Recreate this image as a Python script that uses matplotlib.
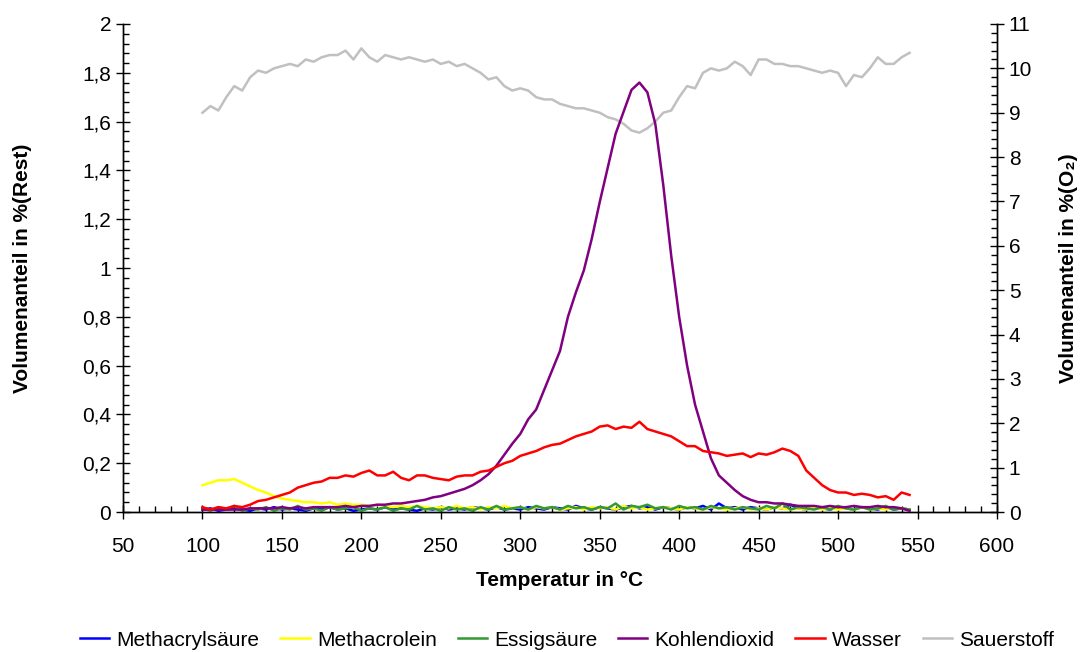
import matplotlib
matplotlib.use('Agg')
import matplotlib.pyplot as plt
from matplotlib.ticker import MultipleLocator, FuncFormatter
import numpy as np

plt.rcParams['font.family'] = ['Liberation Sans', 'DejaVu Sans']

# temperature grid in degC, one reading every 5 degrees
temperatur = np.arange(100, 546, 5)

methacrylsaeure = [0.01, 0.015, 0.005, 0.01, 0.015, 0.01, 0.005, 0.015, 0.01, 0.02,
                   0.01, 0.015, 0.01, 0.005, 0.015, 0.01, 0.02, 0.01, 0.015, 0.005,
                   0.01, 0.015, 0.01, 0.02, 0.01, 0.015, 0.01, 0.005, 0.015, 0.01,
                   0.02, 0.01, 0.015, 0.01, 0.02, 0.015, 0.01, 0.02, 0.01, 0.015,
                   0.01, 0.02, 0.015, 0.01, 0.02, 0.015, 0.01, 0.025, 0.015, 0.01,
                   0.02, 0.015, 0.01, 0.02, 0.025, 0.015, 0.02, 0.01, 0.02, 0.015,
                   0.01, 0.02, 0.015, 0.025, 0.01, 0.035, 0.015, 0.02, 0.01, 0.02,
                   0.015, 0.01, 0.02, 0.015, 0.03, 0.015, 0.01, 0.02, 0.015, 0.01,
                   0.02, 0.015, 0.01, 0.02, 0.015, 0.01, 0.02, 0.01, 0.015, 0.01]

methacrolein = [0.11, 0.12, 0.13, 0.13, 0.135, 0.12, 0.105, 0.09, 0.08, 0.065,
                0.055, 0.05, 0.045, 0.04, 0.04, 0.035, 0.04, 0.03, 0.035, 0.03,
                0.03, 0.025, 0.03, 0.025, 0.02, 0.025, 0.02, 0.025, 0.02, 0.015,
                0.02, 0.015, 0.025, 0.015, 0.02, 0.01, 0.02, 0.015, 0.025, 0.015,
                0.02, 0.01, 0.02, 0.015, 0.02, 0.01, 0.015, 0.02, 0.01, 0.02,
                0.015, 0.02, 0.01, 0.025, 0.015, 0.02, 0.01, 0.015, 0.02, 0.015,
                0.01, 0.02, 0.015, 0.01, 0.02, 0.015, 0.01, 0.015, 0.02, 0.01,
                0.015, 0.01, 0.02, 0.015, 0.01, 0.015, 0.01, 0.02, 0.01, 0.015,
                0.01, 0.015, 0.01, 0.02, 0.01, 0.015, 0.01, 0.02, 0.015, 0.01]

essigsaeure = [0.015, 0.005, 0.02, 0.01, 0.025, 0.005, 0.015, 0.01, 0.02, 0.005,
               0.015, 0.01, 0.025, 0.01, 0.015, 0.005, 0.02, 0.01, 0.015, 0.02,
               0.005, 0.015, 0.01, 0.02, 0.005, 0.015, 0.01, 0.025, 0.01, 0.015,
               0.005, 0.02, 0.01, 0.015, 0.005, 0.02, 0.01, 0.025, 0.01, 0.015,
               0.02, 0.01, 0.025, 0.015, 0.02, 0.01, 0.025, 0.015, 0.02, 0.01,
               0.02, 0.015, 0.035, 0.01, 0.025, 0.02, 0.03, 0.015, 0.02, 0.01,
               0.025, 0.015, 0.02, 0.01, 0.025, 0.015, 0.02, 0.01, 0.02, 0.015,
               0.01, 0.025, 0.015, 0.035, 0.01, 0.02, 0.015, 0.01, 0.02, 0.01,
               0.025, 0.015, 0.01, 0.02, 0.01, 0.015, 0.025, 0.01, 0.015, 0.01]

kohlendioxid = [0.01, 0.01, 0.01, 0.01, 0.01, 0.01, 0.015, 0.015, 0.015, 0.015,
                0.02, 0.015, 0.02, 0.015, 0.02, 0.02, 0.02, 0.02, 0.025, 0.02,
                0.025, 0.025, 0.03, 0.03, 0.035, 0.035, 0.04, 0.045, 0.05, 0.06,
                0.065, 0.075, 0.085, 0.095, 0.11, 0.13, 0.155, 0.19, 0.235, 0.28,
                0.32, 0.38, 0.42, 0.5, 0.58, 0.66, 0.8, 0.9, 0.99, 1.12,
                1.27, 1.41, 1.55, 1.64, 1.73, 1.76, 1.72, 1.59, 1.34, 1.05,
                0.8, 0.6, 0.44, 0.33, 0.22, 0.15, 0.12, 0.09, 0.065, 0.05,
                0.04, 0.04, 0.035, 0.035, 0.03, 0.025, 0.025, 0.025, 0.02, 0.025,
                0.02, 0.02, 0.025, 0.02, 0.02, 0.025, 0.02, 0.02, 0.015, 0.005]

wasser = [0.02, 0.01, 0.02, 0.015, 0.025, 0.02, 0.03, 0.045, 0.05, 0.06,
          0.07, 0.08, 0.1, 0.11, 0.12, 0.125, 0.14, 0.14, 0.15, 0.145,
          0.16, 0.17, 0.15, 0.15, 0.165, 0.14, 0.13, 0.15, 0.15, 0.14,
          0.135, 0.13, 0.145, 0.15, 0.15, 0.165, 0.17, 0.185, 0.2, 0.21,
          0.23, 0.24, 0.25, 0.265, 0.275, 0.28, 0.295, 0.31, 0.32, 0.33,
          0.35, 0.355, 0.34, 0.35, 0.345, 0.37, 0.34, 0.33, 0.32, 0.31,
          0.29, 0.27, 0.27, 0.25, 0.245, 0.24, 0.23, 0.235, 0.24, 0.225,
          0.24, 0.235, 0.245, 0.26, 0.25, 0.23, 0.17, 0.14, 0.11, 0.09,
          0.08, 0.08, 0.07, 0.075, 0.07, 0.06, 0.065, 0.05, 0.08, 0.07]

# oxygen on the secondary axis
sauerstoff = [9.0, 9.15, 9.05, 9.35, 9.6, 9.5, 9.8, 9.95, 9.9, 10.0,
              10.05, 10.1, 10.05, 10.2, 10.15, 10.25, 10.3, 10.3, 10.4, 10.2,
              10.45, 10.25, 10.15, 10.3, 10.25, 10.2, 10.25, 10.2, 10.15, 10.2,
              10.1, 10.15, 10.05, 10.1, 10.0, 9.9, 9.75, 9.8, 9.6, 9.5,
              9.55, 9.5, 9.35, 9.3, 9.3, 9.2, 9.15, 9.1, 9.1, 9.05,
              9.0, 8.9, 8.85, 8.75, 8.6, 8.55, 8.65, 8.8, 9.0, 9.05,
              9.35, 9.6, 9.55, 9.9, 10.0, 9.95, 10.0, 10.15, 10.05, 9.85,
              10.2, 10.2, 10.1, 10.1, 10.05, 10.05, 10.0, 9.95, 9.9, 9.95,
              9.9, 9.6, 9.85, 9.8, 10.0, 10.25, 10.1, 10.1, 10.25, 10.35]

fig = plt.figure(figsize=(10.82, 6.52), dpi=100)
ax = fig.add_axes([0.1137, 0.2147, 0.8077, 0.7485])
ax2 = ax.twinx()
ax.set_zorder(ax2.get_zorder() + 1)
ax.patch.set_visible(False)

lw = 1.8
h1, = ax.plot(temperatur, methacrylsaeure, color='#0000FF', lw=lw, label='Methacrylsäure')
h2, = ax.plot(temperatur, methacrolein, color='#FFFF00', lw=lw, label='Methacrolein')
h3, = ax.plot(temperatur, essigsaeure, color='#339933', lw=lw, label='Essigsäure')
h4, = ax.plot(temperatur, kohlendioxid, color='#800080', lw=lw, label='Kohlendioxid')
h5, = ax.plot(temperatur, wasser, color='#FF0000', lw=lw, label='Wasser')
h6, = ax2.plot(temperatur, sauerstoff, color='#C0C0C0', lw=lw, label='Sauerstoff')

ax.set_xlim(50, 600)
ax.set_ylim(0, 2)
ax2.set_ylim(0, 11)

ax.xaxis.set_major_locator(MultipleLocator(50))
ax.xaxis.set_minor_locator(MultipleLocator(10))
ax.yaxis.set_major_locator(MultipleLocator(0.2))
ax.yaxis.set_minor_locator(MultipleLocator(0.04))
ax2.yaxis.set_major_locator(MultipleLocator(1))
ax2.yaxis.set_minor_locator(MultipleLocator(0.2))

# German decimal comma
ax.yaxis.set_major_formatter(FuncFormatter(lambda v, p: ('%g' % round(v, 2)).replace('.', ',')))

for a in (ax, ax2):
    a.spines['top'].set_visible(False)
    for s in a.spines.values():
        s.set_linewidth(1.0)
        s.set_color('black')
    a.tick_params(which='major', direction='inout', length=10, width=1, labelsize=15)
    a.tick_params(which='minor', direction='in', length=4, width=1)
ax.tick_params(axis='x', which='major', pad=13)

ax.set_xlabel('Temperatur in °C', fontsize=15, fontweight='bold', labelpad=11)
ax.set_ylabel('Volumenanteil in %(Rest)', fontsize=15, fontweight='bold', labelpad=36)
ax2.set_ylabel('Volumenanteil in %(O₂)', fontsize=15, fontweight='bold', labelpad=19)

fig.legend(handles=[h1, h2, h3, h4, h5, h6], loc='center', bbox_to_anchor=(0.524, 0.018),
           ncol=6, frameon=False, fontsize=15, handlelength=1.4, handletextpad=0.35,
           columnspacing=1.0)

fig.savefig('out.png', dpi=100)
